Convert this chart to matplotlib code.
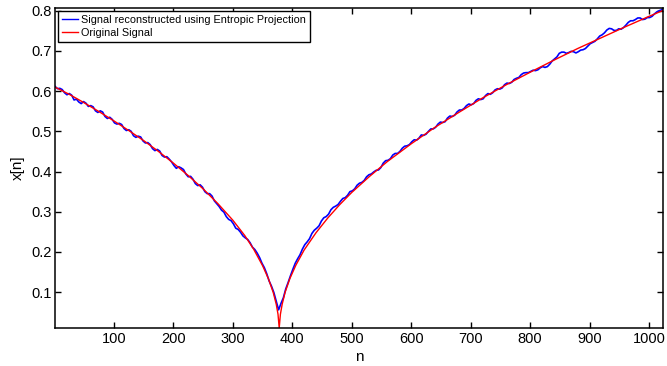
import numpy as np
import matplotlib
matplotlib.use('Agg')
import matplotlib.pyplot as plt

plt.rc('font', family='Liberation Sans', size=10.5)
plt.rc('axes', linewidth=1.1)
plt.rc('xtick', direction='in', top=True)
plt.rc('ytick', direction='in', right=True)
plt.rc('xtick.major', size=4, width=1.0, pad=3)
plt.rc('ytick.major', size=4, width=1.0, pad=2)

arquivo_de_saida = 'out.png'

# sinal original
n_original = [1, 25, 50, 75, 100, 125, 150, 175, 200, 225, 250, 275, 300, 320,
              335, 350, 360, 368, 373, 376, 378, 380, 383, 388, 396, 406, 420,
              440, 460, 480, 500, 530, 560, 600, 640, 680, 720, 760, 800, 840,
              880, 920, 960, 1000, 1024]
x_original = [0.610, 0.592, 0.571, 0.549, 0.526, 0.502, 0.477, 0.450, 0.421,
              0.390, 0.357, 0.320, 0.279, 0.241, 0.207, 0.166, 0.133, 0.099,
              0.070, 0.045, 0.011, 0.045, 0.070, 0.100, 0.134, 0.167, 0.205,
              0.248, 0.285, 0.318, 0.348, 0.388, 0.425, 0.469, 0.510, 0.547,
              0.583, 0.616, 0.647, 0.677, 0.706, 0.733, 0.760, 0.786, 0.801]

# sinal reconstruido (projecao entropica), amostras n = 1, 9, 17, ...
n_reconstruido = list(range(1, 1018, 8)) + [1024]
x_reconstruido = [
    0.612, 0.607, 0.596, 0.594, 0.578, 0.573, 0.574, 0.562, 0.561, 0.547,
    0.548, 0.532, 0.530, 0.518, 0.517, 0.502, 0.500, 0.485, 0.486, 0.471,
    0.467, 0.452, 0.451, 0.436, 0.431, 0.415, 0.412, 0.405, 0.387, 0.381,
    0.365, 0.361, 0.345, 0.339, 0.320, 0.304, 0.288, 0.278, 0.259, 0.249,
    0.235, 0.223, 0.206, 0.186, 0.161, 0.128, 0.099, 0.056, 0.086, 0.124,
    0.157, 0.183, 0.207, 0.225, 0.246, 0.259, 0.277, 0.288, 0.305, 0.314,
    0.326, 0.335, 0.350, 0.357, 0.371, 0.378, 0.392, 0.399, 0.404, 0.421,
    0.428, 0.441, 0.445, 0.458, 0.464, 0.474, 0.478, 0.491, 0.493, 0.506,
    0.510, 0.523, 0.524, 0.538, 0.540, 0.553, 0.557, 0.568, 0.569, 0.581,
    0.581, 0.594, 0.596, 0.606, 0.608, 0.620, 0.622, 0.632, 0.641, 0.646,
    0.649, 0.651, 0.658, 0.659, 0.667, 0.680, 0.694, 0.697, 0.696, 0.698,
    0.698, 0.703, 0.712, 0.721, 0.730, 0.740, 0.752, 0.755, 0.751, 0.754,
    0.764, 0.775, 0.778, 0.782, 0.779, 0.783, 0.792, 0.800, 0.808]

# amostras intermediarias n = 5, 13, 21, ...
n_meio = list(range(5, 1022, 8))
x_meio = [
    0.606, 0.604, 0.591, 0.590, 0.580, 0.569, 0.570, 0.564, 0.551, 0.551,
    0.537, 0.535, 0.521, 0.520, 0.507, 0.504, 0.489, 0.488, 0.476, 0.472,
    0.457, 0.455, 0.440, 0.437, 0.424, 0.408, 0.409, 0.394, 0.388, 0.370,
    0.367, 0.350, 0.345, 0.327, 0.313, 0.299, 0.281, 0.270, 0.256, 0.240,
    0.231, 0.212, 0.197, 0.172, 0.146, 0.115, 0.078, 0.072, 0.108, 0.141,
    0.172, 0.193, 0.218, 0.233, 0.254, 0.265, 0.285, 0.294, 0.311, 0.318,
    0.333, 0.341, 0.352, 0.366, 0.373, 0.387, 0.394, 0.403, 0.410, 0.427,
    0.432, 0.445, 0.450, 0.463, 0.467, 0.479, 0.483, 0.490, 0.500, 0.506,
    0.518, 0.522, 0.533, 0.537, 0.548, 0.553, 0.564, 0.566, 0.577, 0.579,
    0.589, 0.592, 0.603, 0.605, 0.616, 0.619, 0.629, 0.634, 0.645, 0.646,
    0.652, 0.653, 0.661, 0.661, 0.675, 0.685, 0.697, 0.694, 0.699, 0.695,
    0.702, 0.706, 0.718, 0.724, 0.737, 0.745, 0.756, 0.751, 0.755, 0.758,
    0.771, 0.775, 0.782, 0.778, 0.783, 0.786, 0.797, 0.802]

n_todos = np.array(n_reconstruido + n_meio)
x_todos = np.array(x_reconstruido + x_meio)
ordem = np.argsort(n_todos)

fig = plt.figure(figsize=(6.67, 3.66), dpi=100)
ax = fig.add_axes([0.0825, 0.104, 0.912, 0.8755])

ax.plot(n_todos[ordem], x_todos[ordem], color='b', lw=1.2,
        label='Signal reconstructed using Entropic Projection')
ax.plot(n_original, x_original, color='r', lw=1.0, label='Original Signal')

ax.set_xlim(1, 1024)
ax.set_ylim(0.011, 0.808)
ax.set_xticks(range(100, 1001, 100))
ax.set_yticks([0.1, 0.2, 0.3, 0.4, 0.5, 0.6, 0.7, 0.8])
ax.set_xlabel('n', fontsize=11, labelpad=3)
ax.set_ylabel('x[n]', fontsize=11, labelpad=5)

leg = ax.legend(loc='upper left', fontsize=7.8, fancybox=False, framealpha=1,
                edgecolor='k', borderaxespad=0.3, handlelength=1.5,
                handletextpad=0.25, labelspacing=0.3, borderpad=0.35)
leg.get_frame().set_linewidth(1.0)
for linha in leg.get_lines():
    linha.set_linewidth(1.0)

plt.savefig(arquivo_de_saida, dpi=100)
